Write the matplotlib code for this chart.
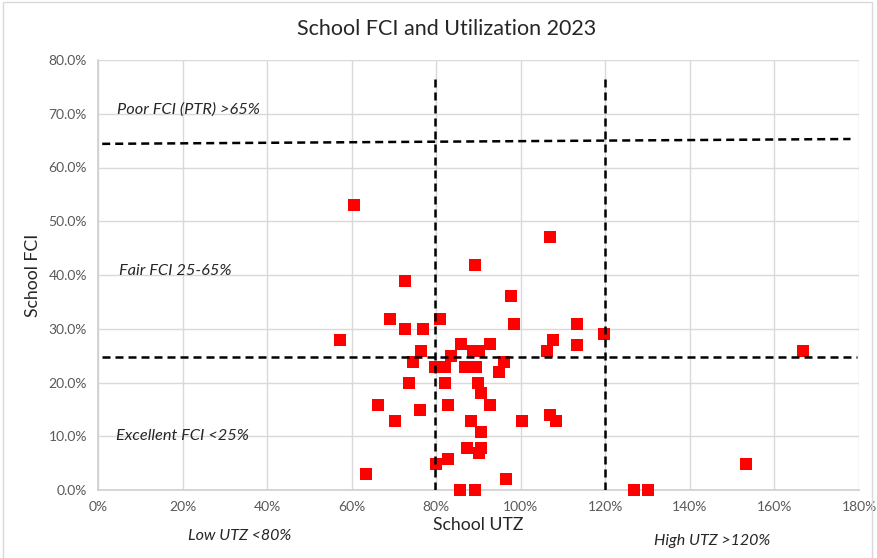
import matplotlib.pyplot as plt
from matplotlib.ticker import PercentFormatter
from matplotlib.patches import Rectangle

plt.rcParams['font.family'] = ['Lato', 'DejaVu Sans']

# School utilization (UTZ, %) and facility condition index (FCI, %)
utz = [60.5, 107.0, 89.1, 72.5, 97.8, 69.1, 80.9, 72.5, 76.8, 98.3,
       113.2, 119.6, 57.3, 107.6, 113.2, 76.5, 85.8, 88.6, 90.1, 92.7,
       106.1, 83.6, 74.4, 96.1, 79.6, 82.0, 86.8, 89.5, 94.9, 73.6,
       82.0, 89.9, 90.7, 66.3, 76.2, 82.9, 92.7, 70.2, 88.2, 100.2,
       107.0, 108.3, 90.7, 87.2, 90.5, 90.1, 82.9, 80.0, 63.5, 96.4,
       85.7, 89.1, 166.7, 153.2, 126.7, 130.0]
fci = [53.1, 47.0, 41.8, 38.9, 36.1, 31.9, 31.9, 29.9, 29.9, 30.9,
       30.9, 29.0, 28.0, 28.0, 27.0, 25.9, 27.2, 25.9, 25.9, 27.2,
       25.9, 25.0, 23.8, 23.8, 22.9, 22.9, 22.9, 22.9, 21.9, 20.0,
       20.0, 20.0, 18.0, 15.9, 14.9, 15.9, 15.9, 12.9, 12.9, 12.9,
       13.9, 12.9, 10.8, 7.8, 7.9, 6.8, 5.8, 4.9, 2.9, 2.0,
       0.0, 0.0, 25.9, 4.9, 0.0, 0.0]

fci_fair = 65
fci_good = 25
utz_low = 80
utz_high = 120

fig = plt.figure(figsize=(8.78, 5.58), dpi=100)
ax = fig.add_axes([98/878, 1 - 490/558, 761/878, 430/558])

ax.scatter(utz, fci, marker='s', s=78, color='#FF0000', linewidths=0,
           zorder=3, clip_on=False)

# threshold lines
dash = dict(ls=(0, (3.2, 2.0)), color='black', lw=1.8, zorder=4)
ax.plot([1, 178], [fci_fair - 0.6, fci_fair + 0.3], **dash)
ax.plot([1, 179.5], [fci_good - 0.3, fci_good - 0.3], **dash)
ax.plot([utz_low - 0.4, utz_low - 0.4], [0, 77.2], **dash)
ax.plot([utz_high, utz_high], [0, 77.2], **dash)

ax.set_xlim(0, 180)
ax.set_ylim(0, 80)
ax.set_xticks(range(0, 181, 20))
ax.set_yticks(range(0, 81, 10))
ax.xaxis.set_major_formatter(PercentFormatter(decimals=0))
ax.yaxis.set_major_formatter(PercentFormatter(decimals=1))
ax.tick_params(length=0, labelsize=10, labelcolor='#595959', pad=8)
ax.grid(True, color='#D9D9D9', lw=1)
ax.set_axisbelow(True)
for s in ['top', 'right']:
    ax.spines[s].set_visible(False)
for s in ['left', 'bottom']:
    ax.spines[s].set_color('#CFCFCF')
    ax.spines[s].set_linewidth(1.2)

ax.set_xlabel('School UTZ', fontsize=12.7, color='#262626', labelpad=3)
ax.set_ylabel('School FCI', fontsize=12.7, color='#262626', labelpad=5)
fig.text(447/878, 1 - 29/558, 'School FCI and Utilization 2023', fontsize=15.5,
         color='#262626', ha='center', va='center')

lbl = dict(fontsize=11.8, style='italic', color='#262626', va='center')
ax.text(4.6, 70.8, 'Poor FCI (PTR) >65%', **lbl)
ax.text(5.0, 40.8, 'Fair FCI 25-65%', **lbl)
ax.text(4.2, 10.0, 'Excellent FCI <25%', **lbl)
lbl['fontsize'] = 11.5
fig.text(240/878, 1 - 536/558, 'Low UTZ <80%', ha='center', **lbl)
fig.text(712/878, 1 - 541/558, 'High UTZ >120%', ha='center', **lbl)

fig.add_artist(Rectangle((3/878, -0.01), 0.99, 1 - 2/558 + 0.01, transform=fig.transFigure,
                         fill=False, edgecolor='#D9D9D9', lw=1))

fig.savefig('out.png', dpi=100)
